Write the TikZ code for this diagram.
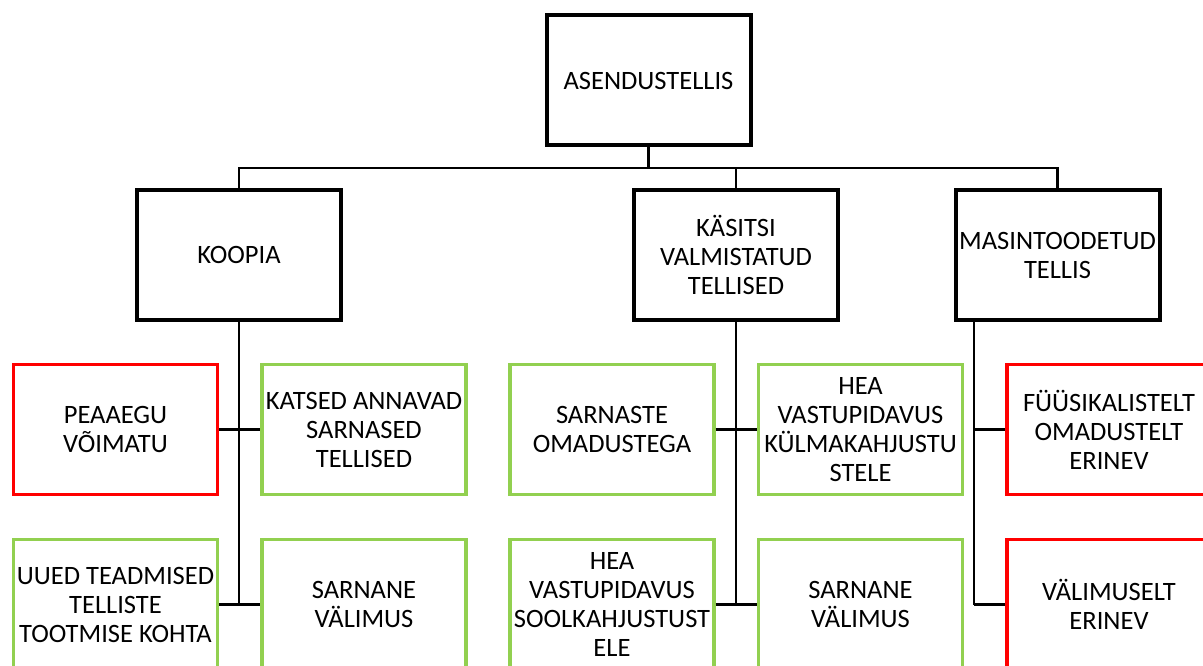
\documentclass[tikz,border=0pt]{standalone}
\usepackage{fontspec}
\setmainfont{Carlito}
\definecolor{okgreen}{HTML}{92D050}
\definecolor{badred}{HTML}{FF0000}
\begin{document}
\begin{tikzpicture}[x=1pt,y=-1pt,
  every node/.style={font=\fontsize{26.5}{29}\selectfont, align=center,
    inner sep=0pt, minimum width=204pt, minimum height=130pt},
  mainbox/.style={draw=black, line width=4pt},
  plusbox/.style={draw=okgreen, line width=3.2pt},
  minusbox/.style={draw=badred, line width=3.2pt},
  link/.style={draw=black, line width=2.4pt}]
\clip (0,0) rectangle (1203,666);
\fill[white] (0,0) rectangle (1203,666);

% root and first level
\node[mainbox] (root) at (648.5,80.5) {ASENDUSTELLIS};
\node[mainbox] (koopia) at (239,255) {KOOPIA};
\node[mainbox] (kasitsi) at (736,255) {KÄSITSI\\VALMISTATUD\\TELLISED};
\node[mainbox] (masin) at (1057.5,255) {MASINTOODETUD\\TELLIS};

% second level, first row
\node[minusbox] (peaaegu) at (115.5,429.5) {PEAAEGU\\VÕIMATU};
\node[plusbox] (katsed) at (364,429.5) {KATSED ANNAVAD\\SARNASED\\TELLISED};
\node[plusbox] (omadus) at (612,429.5) {SARNASTE\\OMADUSTEGA};
\node[plusbox] (kulm) at (860.5,429.5) {HEA\\VASTUPIDAVUS\\KÜLMAKAHJUSTU\\STELE};
\node[minusbox] (fuus) at (1109,429.5) {FÜÜSIKALISTELT\\OMADUSTELT\\ERINEV};

% second level, second row
\node[plusbox] (uued) at (115.5,604.5) {UUED TEADMISED\\TELLISTE\\TOOTMISE KOHTA};
\node[plusbox] (valim1) at (364,604.5) {SARNANE\\VÄLIMUS};
\node[plusbox] (sool) at (612,604.5) {HEA\\VASTUPIDAVUS\\SOOLKAHJUSTUST\\ELE};
\node[plusbox] (valim2) at (860.5,604.5) {SARNANE\\VÄLIMUS};
\node[minusbox] (valimerinev) at (1109,604.5) {VÄLIMUSELT\\ERINEV};

% tree connectors
\coordinate (bus) at (648.5,168);
\draw[link] (root.south) -- (bus);
\draw[link] (koopia.north) |- (bus) -| (masin.north);
\draw[link] (kasitsi.north) -- (kasitsi.north |- bus);

\coordinate (kend) at (239,604.5);
\coordinate (send) at (736,604.5);
\coordinate (mtop) at (974,322);
\coordinate (mend) at (974,604.5);
\draw[link] (koopia.south) -- (kend);
\draw[link] (kasitsi.south) -- (send);
\draw[link] (mtop) -- (mend);

\draw[link] (peaaegu.east) -- (katsed.west);
\draw[link] (uued.east) -- (valim1.west);
\draw[link] (omadus.east) -- (kulm.west);
\draw[link] (sool.east) -- (valim2.west);
\draw[link] (mtop |- fuus.west) -- (fuus.west);
\draw[link] (mend) -- (valimerinev.west);
\end{tikzpicture}
\end{document}
